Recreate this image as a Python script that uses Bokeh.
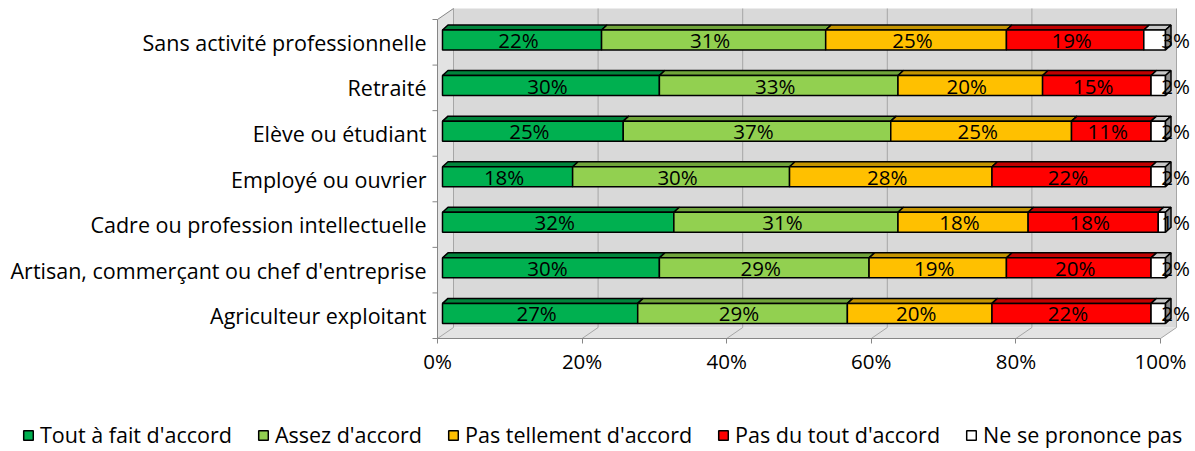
from bokeh.plotting import figure
from bokeh.models import (Range1d, FixedTicker, Legend, LegendItem, ColumnDataSource,
                          LinearAxis)
from bokeh.core.properties import value
from bokeh.embed import file_html
from bokeh.resources import INLINE

# ---------------- data ----------------
categories = ["Sans activité professionnelle", "Retraité", "Elève ou étudiant",
              "Employé ou ouvrier", "Cadre ou profession intellectuelle",
              "Artisan, commerçant ou chef d'entreprise", "Agriculteur exploitant"]
series_names = ["Tout à fait d'accord", "Assez d'accord", "Pas tellement d'accord",
                "Pas du tout d'accord", "Ne se prononce pas"]
tout_a_fait = [22, 30, 25, 18, 32, 30, 27]
assez = [31, 33, 37, 30, 31, 29, 29]
pas_tellement = [25, 20, 25, 28, 18, 19, 20]
pas_du_tout = [19, 15, 11, 22, 18, 20, 22]
ne_se_prononce = [3, 2, 2, 2, 1, 2, 2]
x_ticks = [0, 20, 40, 60, 80, 100]
x_tick_labels = ["0%", "20%", "40%", "60%", "80%", "100%"]

series_values = [tout_a_fait, assez, pas_tellement, pas_du_tout, ne_se_prononce]
front_colors = ["#00B050", "#92D050", "#FFC000", "#FF0000", "#FFFFFF"]
top_colors = ["#00853C", "#70A43A", "#C49400", "#C00000", "#C8C8C8"]
END_COLOR = "#8C8C8C"

# ---------------- geometry (pixels -> data units) ----------------
W, H = 1195, 451
X0_PX = 437        # page x of 0 %
YB_PX = 338        # page y of the front floor edge
SX = 7.23          # px per percent
SY = 45.57         # px per category
WDX, WDY = 16 / SX, 11 / SY          # wall depth
BDX0, BDY0 = 5 / SX, 2.3 / SY        # bar front offset
BDX, BDY = 5.5 / SX, 5 / SY          # bar depth
HH = 10 / SY                          # half bar height
n = len(categories)
yb, yt = -0.5, n - 0.5

x_start = -X0_PX / SX
y_top = yb + YB_PX / SY
p = figure(width=W, height=H, output_backend="svg", toolbar_location=None,
           x_range=Range1d(x_start, x_start + W / SX),
           y_range=Range1d(y_top - H / SY, y_top),
           x_axis_type=None, y_axis_type=None, min_border=0)
p.outline_line_color = None
p.background_fill_color = "white"

WALL = "#D9D9D9"
SIDE = "#E3E3E3"
GRID = "#A6A6A6"
AX = "#868686"

# walls
p.quad(left=WDX, right=100 + WDX, bottom=yb + WDY, top=yt + WDY,
       fill_color=WALL, line_color=None)
p.patch([0, WDX, WDX, 0], [yb, yb + WDY, yt + WDY, yt], fill_color=SIDE, line_color=None)
p.patch([0, 100, 100 + WDX, WDX], [yb, yb, yb + WDY, yb + WDY], fill_color=SIDE, line_color=None)

# gridlines on back wall and floor
p.segment(x0=[t + WDX for t in x_ticks], y0=[yb + WDY] * len(x_ticks),
          x1=[t + WDX for t in x_ticks], y1=[yt + WDY] * len(x_ticks), line_color=GRID, line_width=1)
p.segment(x0=x_ticks, y0=[yb] * len(x_ticks),
          x1=[t + WDX for t in x_ticks], y1=[yb + WDY] * len(x_ticks), line_color=GRID, line_width=1)
# side wall top edge, y axis line and category separators
p.segment(x0=[0, 0], y0=[yt, yb], x1=[WDX, 0], y1=[yt + WDY, yt], line_color=AX, line_width=1)
bounds = [yb + k for k in range(n + 1)]
p.segment(x0=[-5 / SX] * len(bounds), y0=bounds, x1=[0] * len(bounds), y1=bounds,
          line_color=AX, line_width=1)

# bars
ycs = [(n - 1 - r) + BDY0 for r in range(n)]
cum = [0.0] * n
front_renderers = []
lab_x, lab_y, lab_t = [], [], []
for k, vals in enumerate(series_values):
    lefts = [cum[r] for r in range(n)]
    rights = [cum[r] + vals[r] for r in range(n)]
    top_xs = [[lefts[r] + BDX0, rights[r] + BDX0, rights[r] + BDX0 + BDX, lefts[r] + BDX0 + BDX] for r in range(n)]
    top_ys = [[ycs[r] + HH, ycs[r] + HH, ycs[r] + HH + BDY, ycs[r] + HH + BDY] for r in range(n)]
    p.patches(xs=top_xs, ys=top_ys, fill_color=top_colors[k], line_color="black", line_width=1.5)
    src = ColumnDataSource(dict(y=ycs, left=[l + BDX0 for l in lefts], right=[rr + BDX0 for rr in rights]))
    rf = p.hbar(y="y", left="left", right="right", height=2 * HH, source=src,
                fill_color=front_colors[k], line_color="black", line_width=1.5)
    front_renderers.append(rf)
    for r in range(n):
        if k == len(series_values) - 1:
            lab_x.append(rights[r] + 2.1)
        else:
            lab_x.append((lefts[r] + rights[r]) / 2 + BDX0 - 3.5 / SX)
        lab_y.append(ycs[r])
        lab_t.append(f"{vals[r]}%")
    cum = rights

# right end faces
end_xs = [[cum[r] + BDX0, cum[r] + BDX0 + BDX, cum[r] + BDX0 + BDX, cum[r] + BDX0] for r in range(n)]
end_ys = [[ycs[r] - HH, ycs[r] - HH + BDY, ycs[r] + HH + BDY, ycs[r] + HH] for r in range(n)]
p.patches(xs=end_xs, ys=end_ys, fill_color=END_COLOR, line_color="black", line_width=1.5)

p.text(x=lab_x, y=lab_y, text=lab_t, text_align="center", text_baseline="middle",
       text_font=value("Open Sans"), text_font_size=value("20.5px"), text_color="black")

# axes (fixed inside the frame)
xaxis = LinearAxis(fixed_location=yb, ticker=FixedTicker(ticks=x_ticks), bounds=(0, 100),
                   major_label_overrides={t: lab for t, lab in zip(x_ticks, x_tick_labels)},
                   axis_line_color=AX, major_tick_line_color=AX, major_tick_out=5,
                   major_tick_in=0, minor_tick_line_color=None,
                   major_label_text_font="Open Sans", major_label_text_font_size="20.5px",
                   major_label_text_color="black", major_label_standoff=3)
p.add_layout(xaxis, "below")

yaxis = LinearAxis(fixed_location=0, ticker=FixedTicker(ticks=list(range(n))),
                   major_label_overrides={n - 1 - r: categories[r] for r in range(n)},
                   axis_line_color=None, major_tick_line_color=None, minor_tick_line_color=None,
                   major_tick_out=0, major_tick_in=0,
                   major_label_text_font="Open Sans", major_label_text_font_size="21.5px",
                   major_label_text_color="black", major_label_standoff=11)
p.add_layout(yaxis, "left")

legend = Legend(items=[LegendItem(label=s, renderers=[rr]) for s, rr in zip(series_names, front_renderers)],
                orientation="horizontal", location=(22, 2),
                glyph_width=12, glyph_height=12, label_standoff=6, spacing=25,
                padding=0, margin=0, border_line_color=None, background_fill_alpha=0,
                label_text_font="Open Sans", label_text_font_size="21.5px",
                label_text_color="black", label_height=20)
p.add_layout(legend)

open("out.html", "w").write(file_html(p, INLINE))
